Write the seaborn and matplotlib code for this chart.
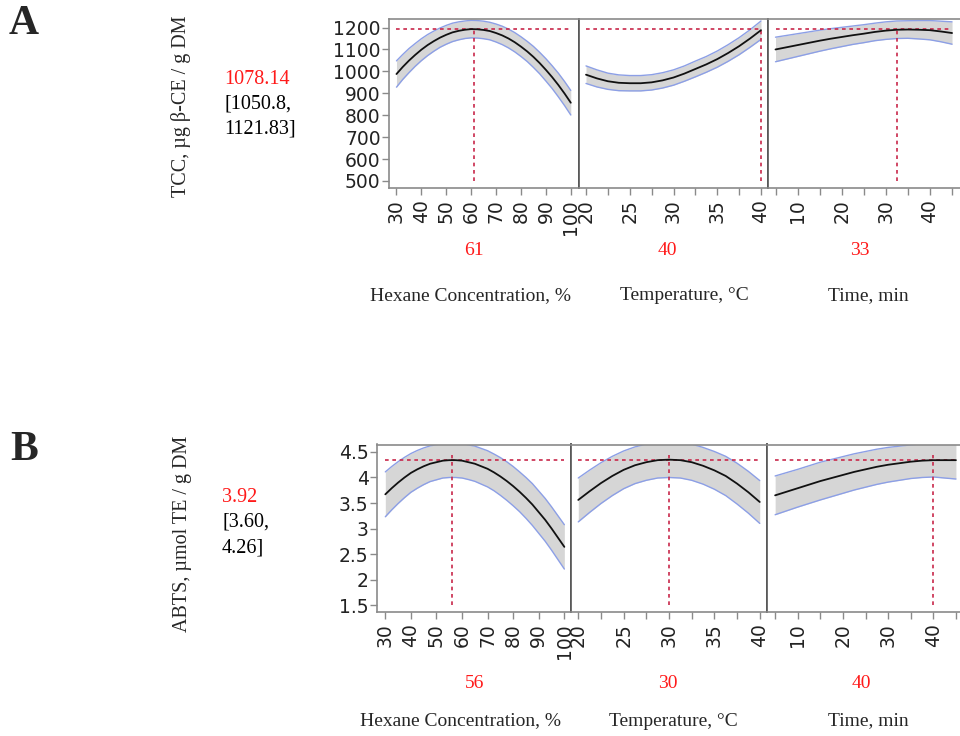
import matplotlib
matplotlib.use("Agg")
import matplotlib.pyplot as plt
import seaborn as sns
import numpy as np
import pandas as pd

# ---------------- data ----------------
hexane_x = [30, 32.5, 35, 37.5, 40, 42.5, 45, 47.5, 50, 52.5, 55, 57.5, 60, 62.5, 65,
            67.5, 70, 72.5, 75, 77.5, 80, 82.5, 85, 87.5, 90, 92.5, 95, 97.5, 100]
temp_x = [20, 21.25, 22.5, 23.75, 25, 26.25, 27.5, 28.75, 30, 31.25, 32.5, 33.75, 35,
          36.25, 37.5, 38.75, 40]
time_x = [5, 7.5, 10, 12.5, 15, 17.5, 20, 22.5, 25, 27.5, 30, 32.5, 35, 37.5, 40, 42.5, 45]

# A: TCC, predicted value and half-width of the confidence band
tcc_hexane = [988, 1020, 1049, 1075, 1099, 1120, 1138, 1154, 1167, 1178, 1185, 1190, 1193, 1192, 1189,
              1184, 1175, 1164, 1150, 1133, 1113, 1091, 1066, 1038, 1007, 974, 938, 899, 857]
tcc_hexane_hw = [60, 57, 55, 52, 50, 48, 46, 44, 43, 42, 41, 40, 40, 40, 40,
                 40, 41, 42, 43, 44, 45, 46, 48, 49, 51, 52, 54, 55, 56]
tcc_temp = [985, 968, 955, 948, 946, 946, 950, 959, 972, 990, 1011, 1032, 1056, 1084, 1115, 1150, 1188]
tcc_temp_hw = [40, 39, 37, 36, 35, 35, 35, 35, 35, 35, 36, 36, 37, 38, 39, 40, 42]
tcc_time = [1100, 1110, 1120, 1130, 1140, 1149, 1157, 1165, 1172, 1180, 1186, 1190, 1191, 1190, 1188, 1182, 1175]
tcc_time_hw = [56, 54, 52, 50, 48, 46, 44, 42, 41, 40, 40, 40, 40, 42, 44, 47, 51]

# B: ABTS
abts_hexane = [3.67, 3.79, 3.90, 4.00, 4.09, 4.16, 4.22, 4.27, 4.30, 4.33, 4.34, 4.34, 4.33, 4.30, 4.27,
               4.22, 4.17, 4.10, 4.02, 3.93, 3.83, 3.72, 3.60, 3.47, 3.32, 3.17, 3.00, 2.82, 2.64]
abts_hexane_hw = [0.44, 0.425, 0.41, 0.395, 0.38, 0.37, 0.36, 0.35, 0.345, 0.34, 0.34, 0.34, 0.34, 0.34, 0.345,
                  0.35, 0.355, 0.36, 0.37, 0.378, 0.385, 0.39, 0.40, 0.41, 0.415, 0.42, 0.425, 0.43, 0.435]
abts_temp = [3.56, 3.73, 3.89, 4.03, 4.15, 4.24, 4.30, 4.34, 4.35, 4.34, 4.30, 4.23, 4.14, 4.03, 3.88, 3.71, 3.52]
abts_temp_hw = [0.43, 0.415, 0.40, 0.385, 0.37, 0.36, 0.355, 0.35, 0.35, 0.35, 0.355, 0.36, 0.37, 0.385, 0.40, 0.41, 0.42]
abts_time = [3.65, 3.72, 3.79, 3.86, 3.93, 3.99, 4.05, 4.11, 4.16, 4.21, 4.25, 4.28, 4.31, 4.33, 4.34, 4.34, 4.34]
abts_time_hw = [0.38, 0.375, 0.37, 0.37, 0.37, 0.365, 0.36, 0.355, 0.35, 0.345, 0.34, 0.335, 0.33, 0.33, 0.33, 0.35, 0.37]

# optimum settings
tcc_opt_x = [61, 40, 32.5]
tcc_opt_labels = ["61", "40", "33"]
tcc_opt_y = 1192
abts_opt_x = [56, 30, 40]
abts_opt_labels = ["56", "30", "40"]
abts_opt_y = 4.35

tcc_pred = ["1078.14", "[1050.8,", "1121.83]"]
abts_pred = ["3.92", "[3.60,", "4.26]"]

factor_labels = ["Hexane Concentration, %", "Temperature, \u00b0C", "Time, min"]
tcc_ylabel = "TCC, \u00b5g \u03b2-CE / g DM"
abts_ylabel = "ABTS, \u00b5mol TE / g DM"

tcc_yticks = [500, 600, 700, 800, 900, 1000, 1100, 1200]
abts_yticks = [1.5, 2, 2.5, 3, 3.5, 4, 4.5]
abts_yticklabels = ["1.5", "2", "2.5", "3", "3.5", "4", "4.5"]

# ---------------- style ----------------
sns.set_theme(style="white")
plt.rcParams["font.family"] = ["DejaVu Sans"]
SERIF = ["Liberation Serif", "DejaVu Serif"]
RED = "#ff1a1a"
DASH = "#c8284a"
FILL = "#d6d6d6"
EDGE = "#8c9fe6"
FRAME = "#8a8a8a"
SEP = "#555555"
TICKFS = 13.5

W, H = 960, 736
fig = plt.figure(figsize=(W / 100, H / 100), dpi=100)


def px_axes(x0, x1, y0, y1):
    return fig.add_axes([x0 / W, 1 - y1 / H, (x1 - x0) / W, (y1 - y0) / H])


def ftext(x, y, s, **kw):
    fig.text(x / W, 1 - y / H, s, **kw)


def draw_panel(ax, xs, ys, hw, xlim, ylim, opt_x, opt_y, vbottom, vtop,
               xticks, xlabels, minor, yticks=None, yticklabels=None, first=False, last=False):
    xs = np.asarray(xs, float)
    ys = np.asarray(ys, float)
    hw = np.asarray(hw, float)
    lo, hi = ys - hw, ys + hw
    ax.fill_between(xs, lo, hi, color=FILL, lw=0, zorder=1)
    ax.plot(xs, hi, color=EDGE, lw=1.0, zorder=2)
    ax.plot(xs, lo, color=EDGE, lw=1.0, zorder=2)
    df = pd.DataFrame({"x": xs, "y": ys})
    sns.lineplot(data=df, x="x", y="y", ax=ax, color="#111111", lw=1.3, zorder=4)
    ax.hlines(opt_y, xs[0], xs[-1], colors=DASH, lw=1.2, linestyles=(0, (2.2, 2.2)), zorder=3)
    ax.vlines(opt_x, vbottom, vtop, colors=DASH, lw=1.2, linestyles=(0, (2.2, 2.2)), zorder=3)
    ax.set_xlim(*xlim)
    ax.set_ylim(*ylim)
    ax.set_xlabel("")
    ax.set_ylabel("")
    ax.set_xticks(xticks)
    ax.set_xticklabels(xlabels, rotation=90, fontsize=TICKFS, color="#222222")
    if minor:
        ax.set_xticks(minor, minor=True)
    ax.tick_params(axis="x", which="both", direction="out", length=5, width=1,
                   color=FRAME, pad=3, bottom=True)
    if first:
        ax.set_yticks(yticks)
        ax.set_yticklabels(yticklabels, fontsize=TICKFS, color="#222222")
        ax.tick_params(axis="y", direction="out", length=5, width=1, color=FRAME, pad=1, left=True)
    else:
        ax.set_yticks([])
    for side in ["top", "bottom"]:
        ax.spines[side].set_color(FRAME)
        ax.spines[side].set_linewidth(1.2)
    ax.spines["left"].set_color(FRAME if first else SEP)
    ax.spines["left"].set_linewidth(1.2)
    ax.spines["right"].set_color(SEP)
    ax.spines["right"].set_linewidth(1.2)
    if last:
        ax.spines["right"].set_visible(False)
    ax.set_facecolor("white")


def labels_of(ticks):
    return [str(int(t)) for t in ticks]


# ---------------- panel A ----------------
A_top, A_bot = 19, 188
axA1 = px_axes(389, 579, A_top, A_bot)
axA2 = px_axes(579, 768, A_top, A_bot)
axA3 = px_axes(768, 960, A_top, A_bot)
A_ylim = (468, 1239)
hx_ticks = [30, 40, 50, 60, 70, 80, 90, 100]
tp_ticks = [20, 25, 30, 35, 40]
tp_minor = [22.5, 27.5, 32.5, 37.5]
tm_ticks = [10, 20, 30, 40]
tm_minor = [5, 15, 25, 35, 45]

draw_panel(axA1, hexane_x, tcc_hexane, tcc_hexane_hw, (27.0, 103.3), A_ylim,
           tcc_opt_x[0], tcc_opt_y, 500, 1200, hx_ticks, labels_of(hx_ticks), None,
           tcc_yticks, [str(v) for v in tcc_yticks], first=True)
draw_panel(axA2, temp_x, tcc_temp, tcc_temp_hw, (19.2, 40.8), A_ylim,
           tcc_opt_x[1], tcc_opt_y, 500, 1200, tp_ticks, labels_of(tp_ticks), tp_minor)
draw_panel(axA3, time_x, tcc_time, tcc_time_hw, (3.3, 46.8), A_ylim,
           tcc_opt_x[2], tcc_opt_y, 500, 1200, tm_ticks, labels_of(tm_ticks), tm_minor, last=True)

# ---------------- panel B ----------------
B_top, B_bot = 444.5, 612.3
axB1 = px_axes(377, 571, B_top, B_bot)
axB2 = px_axes(571, 767, B_top, B_bot)
axB3 = px_axes(767, 960, B_top, B_bot)
B_ylim = (1.357, 4.647)

draw_panel(axB1, hexane_x, abts_hexane, abts_hexane_hw, (26.75, 102.6), B_ylim,
           abts_opt_x[0], abts_opt_y, 1.5, 4.45, hx_ticks, labels_of(hx_ticks), None,
           abts_yticks, abts_yticklabels, first=True)
draw_panel(axB2, temp_x, abts_temp, abts_temp_hw, (19.2, 40.8), B_ylim,
           abts_opt_x[1], abts_opt_y, 1.5, 4.45, tp_ticks, labels_of(tp_ticks), tp_minor)
draw_panel(axB3, time_x, abts_time, abts_time_hw, (3.2, 45.9), B_ylim,
           abts_opt_x[2], abts_opt_y, 1.5, 4.45, tm_ticks, labels_of(tm_ticks), tm_minor, last=True)

# ---------------- texts ----------------
ftext(24, 24, "A", family=SERIF, fontsize=30, fontweight="bold", ha="center", va="center")
ftext(24, 450, "B", family=SERIF, fontsize=30, fontweight="bold", ha="center", va="center")

ftext(181, 106, tcc_ylabel, family=SERIF, fontsize=14.5, rotation=90, ha="center", va="center")
ftext(182, 534, abts_ylabel, family=SERIF, fontsize=14.5, rotation=90, ha="center", va="center")

for i, (s, c) in enumerate(zip(tcc_pred, [RED, "black", "black"])):
    ftext(224, 80 + 24.5 * i, s, family=SERIF, fontsize=14.5, color=c, ha="left", va="center")
for i, (s, c) in enumerate(zip(abts_pred, [RED, "black", "black"])):
    ftext(222, 497 + 25.5 * i, s, family=SERIF, fontsize=14.5, color=c, ha="left", va="center")

tcc_lab_x = [474, 667, 860]
tcc_name_x = [471, 684, 868]
for x, s in zip(tcc_lab_x, tcc_opt_labels):
    ftext(x, 251, s, family=SERIF, fontsize=14, color=RED, ha="center", va="center")
for x, s in zip(tcc_name_x, factor_labels):
    ftext(x, 296, s, family=SERIF, fontsize=14, ha="center", va="center")

abts_lab_x = [475, 668, 861]
abts_name_x = [460, 673, 868]
for x, s in zip(abts_lab_x, abts_opt_labels):
    ftext(x, 684, s, family=SERIF, fontsize=14, color=RED, ha="center", va="center")
for x, s in zip(abts_name_x, factor_labels):
    ftext(x, 721, s, family=SERIF, fontsize=14, ha="center", va="center")

fig.savefig("out.png", dpi=100, facecolor="white")
